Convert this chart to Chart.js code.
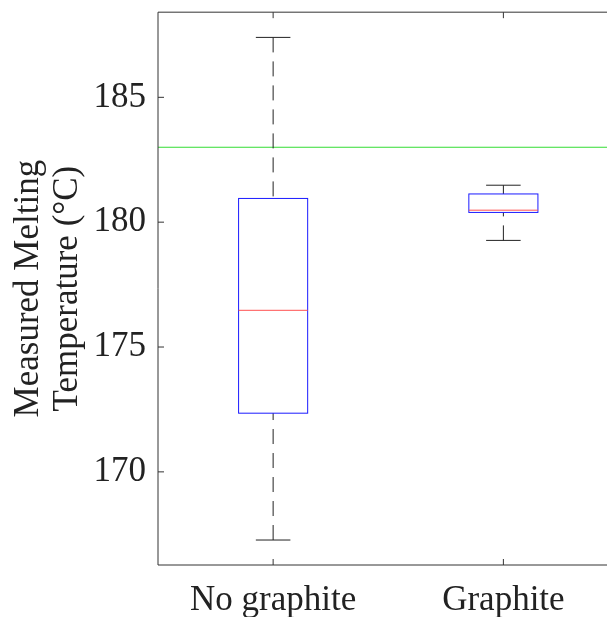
<!DOCTYPE html>
<html>
<head>
<meta charset="utf-8">
<script src="https://cdn.jsdelivr.net/npm/chart.js@4"></script>
<style>
    html, body { margin: 0; padding: 0; background: #fff; overflow: hidden; }
    #wrap { width: 607px; height: 617px; }
</style>
</head>
<body>
<div id="wrap"><canvas id="chart" width="607" height="617"></canvas></div>
<script>
// box plot data
const categories = ['No graphite', 'Graphite'];
const whiskerLow = [167.27, 179.27];
const quartile1 = [172.35, 180.39];
const medians = [176.47, 180.48];
const quartile3 = [180.95, 181.13];
const whiskerHigh = [187.4, 181.48];
const referenceTemp = 183;
const yTicks = [170, 175, 180, 185];

const FONT = "'Liberation Serif', 'Times New Roman', serif";

// draws the boxes, medians, whiskers and inward ticks using the chart's scales
const boxPlotPlugin = {
    id: 'boxPlot',
    afterDatasetsDraw(chart) {
        const ctx = chart.ctx;
        const xs = chart.scales.x;
        const ys = chart.scales.y;
        const area = chart.chartArea;
        const halfBox = 0.15;
        const halfCap = 0.075;

        ctx.save();
        ctx.lineWidth = 1;

        categories.forEach((cat, i) => {
            const pos = i + 1;
            const cx = xs.getPixelForValue(pos);
            const xl = xs.getPixelForValue(pos - halfBox);
            const xr = xs.getPixelForValue(pos + halfBox);
            const cl = xs.getPixelForValue(pos - halfCap);
            const cr = xs.getPixelForValue(pos + halfCap);

            // whiskers, dashed from cap to box
            ctx.strokeStyle = '#222';
            ctx.setLineDash([15, 9]);
            ctx.beginPath();
            ctx.moveTo(cx, ys.getPixelForValue(whiskerHigh[i]));
            ctx.lineTo(cx, ys.getPixelForValue(quartile3[i]));
            ctx.moveTo(cx, ys.getPixelForValue(whiskerLow[i]));
            ctx.lineTo(cx, ys.getPixelForValue(quartile1[i]));
            ctx.stroke();
            ctx.setLineDash([]);

            // caps
            ctx.beginPath();
            ctx.moveTo(cl, ys.getPixelForValue(whiskerHigh[i]));
            ctx.lineTo(cr, ys.getPixelForValue(whiskerHigh[i]));
            ctx.moveTo(cl, ys.getPixelForValue(whiskerLow[i]));
            ctx.lineTo(cr, ys.getPixelForValue(whiskerLow[i]));
            ctx.stroke();

            // box
            ctx.strokeStyle = '#1a1aff';
            const top = ys.getPixelForValue(quartile3[i]);
            const bot = ys.getPixelForValue(quartile1[i]);
            ctx.strokeRect(xl, top, xr - xl, bot - top);

            // median
            ctx.strokeStyle = '#ff5050';
            ctx.beginPath();
            ctx.moveTo(xl, ys.getPixelForValue(medians[i]));
            ctx.lineTo(xr, ys.getPixelForValue(medians[i]));
            ctx.stroke();
        });

        // axis frame and inward ticks
        ctx.strokeStyle = '#333';
        ctx.beginPath();
        ctx.moveTo(area.left, area.top);
        ctx.lineTo(area.right, area.top);
        ctx.moveTo(area.left, area.top);
        ctx.lineTo(area.left, area.bottom);
        ctx.lineTo(area.right, area.bottom);
        yTicks.forEach(v => {
            const y = ys.getPixelForValue(v);
            ctx.moveTo(area.left, y);
            ctx.lineTo(area.left + 6, y);
        });
        categories.forEach((cat, i) => {
            const x = xs.getPixelForValue(i + 1);
            ctx.moveTo(x, area.bottom);
            ctx.lineTo(x, area.bottom - 6);
            ctx.moveTo(x, area.top);
            ctx.lineTo(x, area.top + 6);
        });
        ctx.stroke();
        ctx.restore();
    }
};

const ctx = document.getElementById('chart').getContext('2d');
new Chart(ctx, {
    type: 'line',
    data: {
        datasets: [{
            label: 'Reference',
            data: [{ x: 0.5, y: referenceTemp }, { x: 2.45, y: referenceTemp }],
            borderColor: '#33dd33',
            borderWidth: 1.2,
            pointRadius: 0
        }]
    },
    options: {
        responsive: false,
        animation: false,
        layout: { padding: { top: 0, right: 0, left: 0, bottom: 0 } },
        plugins: {
            legend: { display: false },
            tooltip: { enabled: false }
        },
        scales: {
            x: {
                type: 'linear',
                min: 0.5,
                max: 2.45,
                grid: { display: false, drawTicks: false },
                border: { display: false },
                afterBuildTicks: scale => {
                    scale.ticks = categories.map((c, i) => ({ value: i + 1 }));
                },
                afterFit: scale => { scale.height = 52; },
                ticks: {
                    padding: 15,
                    color: '#222',
                    font: { family: FONT, size: 35 },
                    callback: value => categories[value - 1]
                }
            },
            y: {
                min: 166.27,
                max: 188.41,
                grid: { display: false, drawTicks: false },
                border: { display: false },
                afterBuildTicks: scale => {
                    scale.ticks = yTicks.map(v => ({ value: v }));
                },
                afterFit: scale => { scale.width = 158; },
                ticks: {
                    padding: 12,
                    color: '#222',
                    font: { family: FONT, size: 35, lineHeight: 0.01 }
                },
                title: {
                    display: true,
                    text: ['Measured Melting', 'Temperature (\u00B0C)'],
                    color: '#222',
                    font: { family: FONT, size: 35, lineHeight: 1.1 },
                    padding: { top: 10, bottom: 0 }
                }
            }
        }
    },
    plugins: [boxPlotPlugin]
});
</script>
</body>
</html>
